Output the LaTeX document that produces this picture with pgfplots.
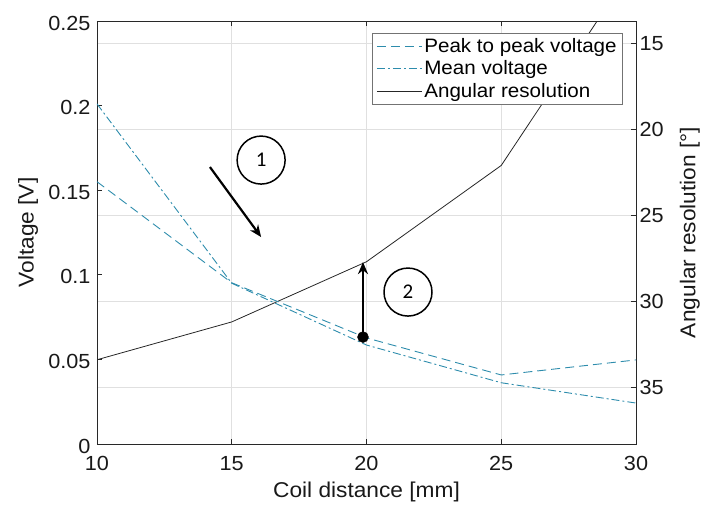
\documentclass[border=0pt]{standalone}
\usepackage{pgfplots}
\pgfplotsset{compat=1.18}
\usetikzlibrary{arrows.meta}
\usepackage{fontspec}
\setmainfont{Liberation Sans}[FakeStretch=1.06]
\newfontfamily\carlito{Carlito}

\definecolor{volt}{RGB}{45,140,172}
\definecolor{frame}{RGB}{40,40,40}

\pgfplotsset{
  common/.style={
    scale only axis, width=539bp, height=423bp,
    at={(0,0)}, anchor=south west,
    xmin=10, xmax=30,
    /pgf/number format/assume math mode=true,
    tick label style={font=\fontsize{20.5}{24}\selectfont, text=black!90},
    label style={font=\fontsize{21.5}{25}\selectfont, text=black!90},
    axis line style={frame, line width=0.8pt},
    tick style={frame, line width=0.8pt},
    major tick length=5bp,
  }
}

\begin{document}
\begin{tikzpicture}
  % right axis (angular resolution), carries the grid
  \begin{axis}[common,
      ymin=13.7, ymax=38.3, y dir=reverse,
      xtick={10,15,20,25,30},
      ytick={15,20,25,30,35},
      yticklabel pos=right, ytick pos=right,
      xticklabel style={yshift=-9bp},
      grid=major, grid style={black!12, line width=0.7pt},
      xlabel={Coil distance [mm]},
      ylabel={Angular resolution [°]},
      xlabel style={at={(axis description cs:0.5,-0.1135)}, anchor=center},
      ylabel style={at={(axis description cs:1.1,0.5)}, anchor=center},
    ]
    \addplot[black!85, line width=0.8pt] coordinates {
      (10,33.4) (15,31.2) (20,27.7) (25,22.1) (30,10.3)
    };
  \end{axis}

  % left axis (voltage)
  \begin{axis}[common,
      ymin=0, ymax=0.25,
      axis x line=none, axis y line*=left,
      ytick={0,0.05,0.1,0.15,0.2,0.25},
      yticklabels={0,0.05,0.1,0.15,0.2,0.25},
      yticklabel style={xshift=-3bp, yshift=-2bp},
      ylabel={Voltage [V]},
      ylabel style={at={(axis description cs:-0.128,0.5)}, anchor=center},
      legend cell align=left,
      legend image code/.code={\draw[#1] (0bp,0bp) -- (45bp,0bp);},
      legend style={at={(axis description cs:0.976,0.972)}, anchor=north east,
        draw=black!55, line width=0.8pt, font=\fontsize{19.5}{23}\selectfont,
        inner xsep=4bp, inner ysep=3bp, row sep=3bp},
    ]
    \addplot[volt, line width=0.9pt, dash pattern=on 9bp off 5bp] coordinates {
      (10,0.155) (15,0.0953) (20,0.0627) (25,0.0408) (30,0.0497)
    };
    \addlegendentry{Peak to peak voltage}
    \addplot[volt, line width=0.9pt, dash pattern=on 8bp off 3bp on 2bp off 3bp] coordinates {
      (10,0.201) (15,0.095) (20,0.0585) (25,0.0362) (30,0.0242)
    };
    \addlegendentry{Mean voltage}
    \addlegendimage{black!85, line width=0.8pt}
    \addlegendentry{Angular resolution}

    % annotations
    \draw[black, line width=2.2pt, -{Stealth[length=12bp,width=10bp]}]
      (axis cs:14.19,0.1637) -- (axis cs:16.09,0.1223);
    \draw[black, line width=1.5pt] (axis cs:16.09,0.1678) circle[radius=24bp]
      node {\carlito\fontsize{21}{25}\selectfont 1};
    \draw[black, line width=1.5pt] (axis cs:21.54,0.0898) circle[radius=24bp]
      node {\carlito\fontsize{21}{25}\selectfont 2};
    \draw[black, line width=2.2pt, -{Stealth[length=12bp,width=10bp]}]
      (axis cs:19.87,0.0632) -- (axis cs:19.87,0.1075);
    \addplot[only marks, mark=*, mark size=5.5bp, black] coordinates {(19.87,0.0632)};
  \end{axis}

  \pgfresetboundingbox
  \path (-97bp,-65bp) rectangle (605bp,444bp);
\end{tikzpicture}
\end{document}
